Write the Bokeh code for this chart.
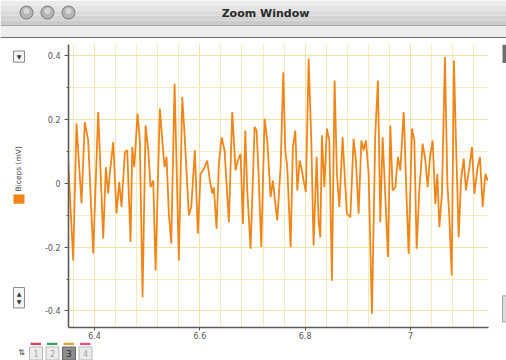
from math import pi
from bokeh.plotting import figure
from bokeh.layouts import column, row
from bokeh.models import Range1d, FixedTicker, CustomJSTickFormatter
from bokeh.core.properties import value
from bokeh.embed import file_html
from bokeh.resources import INLINE

# ---- data ----
time_s = [6.350, 6.3595, 6.3658, 6.3753, 6.3816, 6.388, 6.3975, 6.407, 6.4165, 6.4215, 6.426, 6.429, 6.4355,
          6.4418, 6.4469, 6.4513, 6.4576, 6.4621, 6.4684, 6.4716, 6.4754, 6.4817, 6.486, 6.4912, 6.4969, 6.502, 6.5064,
          6.5115, 6.5159, 6.524, 6.5286, 6.533, 6.5368, 6.5411, 6.5457, 6.552, 6.5557, 6.5601, 6.5666, 6.5709, 6.5791,
          6.5837, 6.5905, 6.5962, 6.6013, 6.6076, 6.614, 6.619, 6.6236, 6.6266, 6.6317, 6.6361, 6.6412, 6.6469, 6.6551,
          6.6615, 6.6678,
          6.6722, 6.6773, 6.6817, 6.6862, 6.69, 6.6963, 6.7039, 6.7077, 6.7115, 6.7166, 6.7229, 6.728, 6.7343, 6.7387,
          6.7419, 6.747, 6.7533, 6.7584, 6.7622, 6.766, 6.7723, 6.7766, 6.7812, 6.785, 6.7894, 6.7926, 6.797, 6.8013,
          6.8065, 6.8116, 6.8159, 6.8217, 6.8254,
          6.8287, 6.8317, 6.8363, 6.8412, 6.8458, 6.8507, 6.8558, 6.8602, 6.8648, 6.871, 6.8762, 6.8792, 6.8857, 6.8919,
          6.8963, 6.9014, 6.9066, 6.9109, 6.9153, 6.9204, 6.9267, 6.9331, 6.9381, 6.9426, 6.947, 6.9508, 6.9571, 6.9616,
          6.966, 6.9711, 6.9761, 6.9806, 6.9869,
          6.9882, 6.9913, 6.9964, 7.0027, 7.0072, 7.0116, 7.0167, 7.023, 7.0281, 7.0325, 7.0369, 7.042, 7.0471, 7.0509,
          7.0547, 7.0596, 7.0653, 7.0699, 7.0737, 7.0781, 7.0824, 7.0862, 7.0914, 7.0957, 7.1009, 7.1052, 7.1117, 7.1166,
          7.1212, 7.1274, 7.1318, 7.1369, 7.142, 7.1464]

biceps_mv = [0.072, -0.242, 0.188, -0.063, 0.192, 0.135, -0.220, 0.224, -0.173, 0.051, -0.031, 0.031, 0.130,
             -0.094, 0.004, -0.074, 0.098, 0.104, -0.184, 0.114, 0.051, 0.219, 0.135, -0.357, 0.182, 0.104, -0.012,
             0.009, -0.273, 0.235, 0.135, 0.051, 0.083, -0.095, -0.189, 0.313, 0.062, -0.242, 0.271, 0.156, -0.100,
             -0.074, 0.104, -0.158, 0.030, 0.046, 0.072, 0.009, -0.032, -0.012, -0.142, 0.062, 0.145, 0.104, -0.122,
             0.224, 0.041,
             0.072, 0.093, -0.127, 0.166, -0.022, -0.205, 0.177, 0.166, 0.030, -0.200, 0.203, 0.135, -0.043, 0.009,
             -0.043, -0.116, 0.051, 0.349, 0.104, 0.051, -0.200, 0.114, 0.166, -0.022, 0.072, 0.051, 0.009, -0.027,
             0.392, 0.135, -0.195, 0.083, -0.116,
             -0.169, 0.151, -0.012, 0.172, 0.135, -0.305, 0.323, 0.030, -0.074, 0.145, -0.012, -0.095, -0.106, 0.140,
             0.072, -0.095, 0.135, 0.104, 0.135, 0.030, -0.409, 0.156, 0.323, -0.122, 0.145, 0.009, -0.231, 0.182,
             -0.022, -0.012, 0.083, 0.041, 0.224,
             0.177, 0.009, -0.221, 0.172, 0.135, -0.205, -0.022, 0.125, 0.072, -0.012, 0.083, 0.135, -0.064, 0.030,
             -0.137, -0.032, 0.397, -0.001, -0.106, -0.289, 0.386, 0.135, -0.169, 0.009, 0.078, -0.022, 0.051, 0.114,
             -0.032, 0.051, 0.083, -0.074, 0.030, 0.009]

x_major = [6.4, 6.6, 6.8, 7.0]
x_minor = [6.36, 6.44, 6.48, 6.52, 6.56, 6.64, 6.68, 6.72, 6.76, 6.84, 6.88, 6.92, 6.96, 7.04, 7.08, 7.12]
y_major = [-0.4, -0.2, 0.0, 0.2, 0.4]
y_minor = [-0.3, -0.1, 0.1, 0.3]
series_label = "Biceps (mV)"
window_title = "Zoom Window"
tab_labels = ["1", "2", "3", "4"]

# ---- layout (page pixels) ----
W, H = 506, 360
TITLE_H = 38          # window title bar + toolbar strip
BOTTOM_H = 18         # tab strip
LEFT_W = 30           # left controls column
RIGHT_W = 6           # right window edge
MID_H = H - TITLE_H - BOTTOM_H
FL, FR, FT, FB = 68, 488, 44, 327   # plot frame in page pixels

FONT = value("DejaVu Sans")


def chrome_fig(w, h, x0, x1, y0, y1):
    f = figure(width=w, height=h, x_range=Range1d(x0, x1), y_range=Range1d(y1, y0),
               min_border=0, output_backend="svg", toolbar_location=None,
               x_axis_location=None, y_axis_location=None)
    f.grid.visible = False
    f.outline_line_color = None
    f.background_fill_color = "white"
    f.border_fill_color = "white"
    return f


# ---- main chart ----
p = figure(frame_width=FR - FL, frame_height=FB - FT,
           min_border_left=FL - LEFT_W, min_border_right=(W - RIGHT_W) - FR,
           min_border_top=FT - TITLE_H, min_border_bottom=(H - BOTTOM_H) - FB,
           x_range=Range1d(6.3506, 7.148), y_range=Range1d(-0.452, 0.436),
           output_backend="svg", toolbar_location=None)
p.background_fill_color = "white"
p.border_fill_color = "white"
p.outline_line_color = None

fmt = CustomJSTickFormatter(code="return tick.toString()")
p.xaxis.ticker = FixedTicker(ticks=x_major, minor_ticks=x_minor)
p.yaxis.ticker = FixedTicker(ticks=y_major, minor_ticks=y_minor)
for ax in (p.xaxis[0], p.yaxis[0]):
    ax.formatter = fmt
    ax.axis_line_color = "#5a5a5a"
    ax.axis_line_width = 1.6
    ax.major_tick_line_color = "#5a5a5a"
    ax.minor_tick_line_color = "#5a5a5a"
    ax.major_tick_in = 0
    ax.minor_tick_in = 0
    ax.major_label_text_font = "DejaVu Sans"
    ax.major_label_text_font_size = "8px"
    ax.major_label_text_color = "#555555"
p.yaxis.major_tick_out = 4
p.yaxis.minor_tick_out = 2
p.yaxis.major_label_standoff = 4
p.xaxis.major_tick_out = 3
p.xaxis.minor_tick_out = 0
p.xaxis.major_label_standoff = 1

for g in (p.xgrid[0], p.ygrid[0]):
    g.grid_line_color = "#f3e3a4"
    g.grid_line_width = 1
    g.minor_grid_line_color = "#f6ebbb"
    g.minor_grid_line_width = 1

p.line(time_s, biceps_mv, line_color="#f0861a", line_width=1.8)

# ---- title bar ----
t = chrome_fig(W, TITLE_H, 0, W, 0, TITLE_H)
band_top = [0, 5, 10, 15, 20]
band_col = ["#ebebeb", "#e3e3e3", "#dbdbdb", "#d3d3d3", "#cbcbcb"]
t.quad(left=0, right=W, top=band_top, bottom=[b + 5 for b in band_top], fill_color=band_col, line_color=None)
t.quad(left=0, right=W, top=25, bottom=36.5, fill_color="#ededed", line_color=None)
t.quad(left=0, right=W, top=24.5, bottom=25.5, fill_color="#a5a5a5", line_color=None)
t.quad(left=0, right=W, top=36.5, bottom=38, fill_color="#6c6c6c", line_color=None)
t.scatter(x=[26, 47, 68], y=[12, 12, 12], size=13, marker="circle",
          fill_color="#b5b5b5", line_color="#7b7b7b", line_width=1)
t.scatter(x=[26, 47, 68], y=[10.5, 10.5, 10.5], size=6, marker="circle",
          fill_color="#d6d6d6", line_color=None)
t.text(x=[265], y=[12.5], text=[window_title], text_font=FONT, text_font_size="11px",
       text_font_style="bold", text_color="#2a2a2a", text_align="center", text_baseline="middle")

# ---- left controls / legend ----
lf = chrome_fig(LEFT_W, MID_H, 0, LEFT_W, TITLE_H, H - BOTTOM_H)
lf.quad(left=13, right=24, top=[45, 299], bottom=[57, 321], fill_color="#f6f6f6", line_color="#8a8a8a")
lf.text(x=[18.5, 18.5, 18.5], y=[51, 306, 314], text=["▼", "▲", "▼"], text_font=FONT,
        text_font_size="6px", text_color="#333333", text_align="center", text_baseline="middle")
lf.quad(left=13, right=24, top=199, bottom=209, fill_color="#f08418", line_color=None)
lf.text(x=[18], y=[171.5], text=[series_label], text_font=FONT, text_font_size="7.5px", angle=pi / 2,
        text_color="#444444", text_align="center", text_baseline="middle")

# ---- right window edge ----
rf = chrome_fig(RIGHT_W, MID_H, W - RIGHT_W, W, TITLE_H, H - BOTTOM_H)
rf.quad(left=502, right=W, top=38, bottom=58, fill_color="#707070", line_color=None)
rf.quad(left=502, right=W, top=308, bottom=336, fill_color="#dcdcdc", line_color="#a0a0a0")

# ---- bottom tabs ----
bf = chrome_fig(W, BOTTOM_H, 0, W, H - BOTTOM_H, H)
tab_x = [29, 45.5, 62, 78.5]
tab_colors = ["#e0405a", "#3aa060", "#e6a030", "#e8508a"]
bf.quad(left=[x + 1 for x in tab_x], right=[x + 11.5 for x in tab_x], top=342, bottom=344.5,
        fill_color=tab_colors, line_color=None)
tab_fill = ["#ececec", "#ececec", "#8c8c8c", "#ececec"]
tab_line = ["#b9b9b9", "#b9b9b9", "#666666", "#b9b9b9"]
tab_text = ["#a0a0a0", "#a0a0a0", "#222222", "#a0a0a0"]
bf.quad(left=tab_x, right=[x + 13 for x in tab_x], top=346.5, bottom=359.5, fill_color=tab_fill, line_color=tab_line)
bf.text(x=[x + 6.5 for x in tab_x], y=[353] * 4, text=tab_labels, text_font=FONT, text_font_size="8px",
        text_color=tab_text, text_align="center", text_baseline="middle")
bf.text(x=[21], y=[352], text=["⇅"], text_font=FONT, text_font_size="8px", text_color="#444444",
        text_align="center", text_baseline="middle")

layout = column(t, row(lf, p, rf, spacing=0), bf, spacing=0)
open("out.html", "w").write(file_html(layout, INLINE))
